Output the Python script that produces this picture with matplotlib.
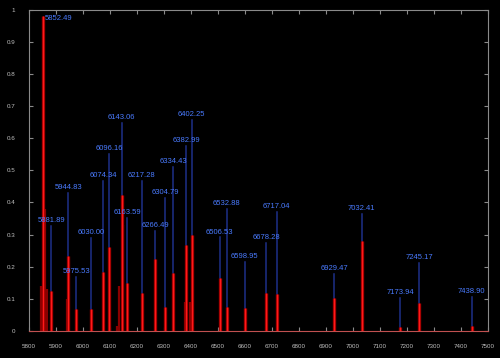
import matplotlib
matplotlib.use("Agg")
import matplotlib.pyplot as plt

# labelled lines: wavelength, peak height, label height (text bottom)
wavelengths = [5852.49, 5881.89, 5944.83, 5975.53, 6030.00, 6074.34, 6096.16,
               6143.06, 6163.59, 6217.28, 6266.49, 6304.79, 6334.43, 6382.99,
               6402.25, 6506.53, 6532.88, 6598.95, 6678.28, 6717.04, 6929.47,
               7032.41, 7173.94, 7245.17, 7438.90]
heights = [0.98, 0.125, 0.233, 0.07, 0.068, 0.185, 0.262,
           0.423, 0.149, 0.118, 0.224, 0.076, 0.181, 0.267,
           0.298, 0.166, 0.076, 0.071, 0.118, 0.115, 0.102,
           0.281, 0.012, 0.088, 0.016]
label_y = [0.96, 0.332, 0.435, 0.173, 0.296, 0.472, 0.556,
           0.654, 0.359, 0.472, 0.318, 0.421, 0.516, 0.583,
           0.662, 0.297, 0.386, 0.221, 0.281, 0.375, 0.184,
           0.371, 0.108, 0.218, 0.111]

# weaker unlabelled lines
extra_wl = [5844.0, 5859.0, 5865.0, 5939.0, 6124.5, 6133.0, 6150.0, 6378.0, 6398.0]
extra_h = [0.14, 0.38, 0.13, 0.10, 0.015, 0.14, 0.33, 0.09, 0.09]

fig = plt.figure(figsize=(5.0, 3.58), dpi=100, facecolor="black")
ax = fig.add_axes([0.058, 0.0754, 0.918, 0.898])
ax.set_facecolor("black")

# spectrum lines
ax.vlines(extra_wl, 0, extra_h, color="#8a0000", lw=1.6, zorder=2)
ax.vlines(wavelengths, 0, heights, color="#a00000", lw=2.4, zorder=2)
ax.vlines(wavelengths, 0, heights, color="#ff1a1a", lw=0.9, zorder=3)

# leader lines and labels
for wl, h, ly in zip(wavelengths[1:], heights[1:], label_y[1:]):
    ax.plot([wl, wl], [h, ly - 0.006], color="#1e3088", lw=1.1, zorder=1)
    ax.text(wl, ly, f"{wl:.2f}", color="#4a7bff", fontsize=5.5,
            ha="center", va="bottom", family="Liberation Sans")
ax.text(wavelengths[0] + 6, label_y[0], f"{wavelengths[0]:.2f}", color="#4a7bff",
        fontsize=5.5, ha="left", va="bottom", family="Liberation Sans")

ax.set_xlim(5800, 7500)
ax.set_ylim(0, 1)
ax.set_xticks(range(5800, 7501, 100))
ax.set_yticks([i / 10 for i in range(11)])
ax.set_yticklabels(["0"] + [f"{i / 10:.1f}" for i in range(1, 10)] + ["1"])

for name, sp in ax.spines.items():
    sp.set_color("#8a8a8a")
    sp.set_linewidth(0.8)
ax.spines["bottom"].set_color("#c05050")

ax.tick_params(direction="in", length=3, width=0.8, color="#8a8a8a",
               labelcolor="#c0c0c0", labelsize=4.5, top=True, right=True)
ax.tick_params(axis="x", pad=9)
ax.tick_params(axis="y", pad=10)
for lab in ax.get_xticklabels() + ax.get_yticklabels():
    lab.set_family("Liberation Sans")

fig.savefig("out.png", dpi=100, facecolor="black")
